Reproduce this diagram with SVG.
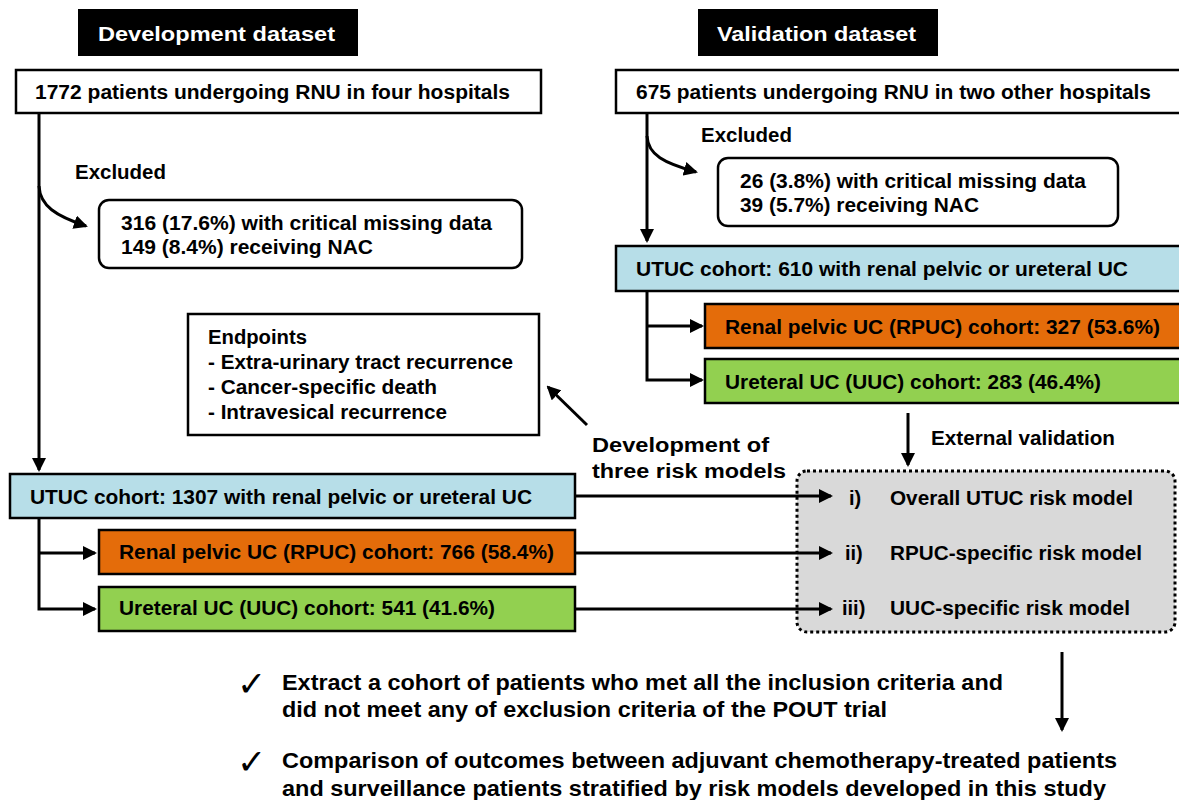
<svg xmlns="http://www.w3.org/2000/svg" width="1179" height="800" viewBox="0 0 1179 800">
  <defs>
    <marker id="head" viewBox="0 0 14 14" markerUnits="userSpaceOnUse" markerWidth="14" markerHeight="14" refX="12" refY="7" orient="auto">
      <path d="M0,0 L14,7 L0,14 Z" fill="#000"/>
    </marker>
    <style>
      text { font-family: "Liberation Sans", Arial, sans-serif; font-weight: bold; font-size: 20px; fill: #000; }
      .title { fill: #fff; }
      .big { font-size: 21.5px; }
      .tick { font-family: "DejaVu Sans", sans-serif; font-weight: bold; font-size: 35px; }
      .box { stroke: #000; stroke-width: 2.5; }
      .white { fill: #fff; }
      .blue { fill: #b7dee8; }
      .orange { fill: #e46c0a; }
      .green { fill: #92d050; }
      .conn { fill: none; stroke: #000; stroke-width: 3; }
    </style>
  </defs>

  <rect width="1179" height="800" fill="#fff"/>

  <!-- section headings -->
  <g id="dev-heading">
    <rect x="78" y="9" width="280" height="47" fill="#000"/>
    <text class="title" x="98" y="41" textLength="237" lengthAdjust="spacingAndGlyphs">Development dataset</text>
  </g>
  <g id="val-heading">
    <rect x="698" y="9" width="240" height="47" fill="#000"/>
    <text class="title" x="717" y="41" textLength="199" lengthAdjust="spacingAndGlyphs">Validation dataset</text>
  </g>

  <!-- development dataset nodes -->
  <g id="dev-all">
    <rect class="box white" x="16" y="70" width="525" height="43"/>
    <text x="35" y="99" textLength="475" lengthAdjust="spacingAndGlyphs">1772 patients undergoing RNU in four hospitals</text>
  </g>
  <g id="dev-excluded-label">
    <text x="75" y="179" textLength="91" lengthAdjust="spacingAndGlyphs">Excluded</text>
  </g>
  <g id="dev-excluded">
    <rect class="box white" x="99" y="200" width="423" height="68" rx="10"/>
    <text x="121" y="230" textLength="371" lengthAdjust="spacingAndGlyphs">316 (17.6%) with critical missing data</text>
    <text x="121" y="254" textLength="252" lengthAdjust="spacingAndGlyphs">149 (8.4%) receiving NAC</text>
  </g>
  <g id="endpoints">
    <rect class="box white" x="188" y="314" width="351" height="121"/>
    <text x="208" y="344" textLength="99" lengthAdjust="spacingAndGlyphs">Endpoints</text>
    <text x="208" y="369" textLength="305" lengthAdjust="spacingAndGlyphs">- Extra-urinary tract recurrence</text>
    <text x="208" y="394" textLength="229" lengthAdjust="spacingAndGlyphs">- Cancer-specific death</text>
    <text x="208" y="419" textLength="239" lengthAdjust="spacingAndGlyphs">- Intravesical recurrence</text>
  </g>
  <g id="dev-label">
    <text x="592" y="452" textLength="177" lengthAdjust="spacingAndGlyphs">Development of</text>
    <text x="592" y="478" textLength="194" lengthAdjust="spacingAndGlyphs">three risk models</text>
  </g>
  <g id="dev-utuc">
    <rect class="box blue" x="10" y="474" width="565" height="44"/>
    <text x="30" y="504" textLength="502" lengthAdjust="spacingAndGlyphs">UTUC cohort: 1307 with renal pelvic or ureteral UC</text>
  </g>
  <g id="dev-rpuc">
    <rect class="box orange" x="99" y="530" width="476" height="44"/>
    <text x="119" y="559" textLength="435" lengthAdjust="spacingAndGlyphs">Renal pelvic UC (RPUC) cohort: 766 (58.4%)</text>
  </g>
  <g id="dev-uuc">
    <rect class="box green" x="99" y="587" width="476" height="44"/>
    <text x="119" y="615" textLength="376" lengthAdjust="spacingAndGlyphs">Ureteral UC (UUC) cohort: 541 (41.6%)</text>
  </g>

  <!-- validation dataset nodes -->
  <g id="val-all">
    <rect class="box white" x="616" y="70" width="570" height="43"/>
    <text x="636" y="99" textLength="515" lengthAdjust="spacingAndGlyphs">675 patients undergoing RNU in two other hospitals</text>
  </g>
  <g id="val-excluded-label">
    <text x="701" y="142" textLength="91" lengthAdjust="spacingAndGlyphs">Excluded</text>
  </g>
  <g id="val-excluded">
    <rect class="box white" x="718" y="158" width="400" height="68" rx="10"/>
    <text x="740" y="188" textLength="346" lengthAdjust="spacingAndGlyphs">26 (3.8%) with critical missing data</text>
    <text x="740" y="212" textLength="239" lengthAdjust="spacingAndGlyphs">39 (5.7%) receiving NAC</text>
  </g>
  <g id="val-utuc">
    <rect class="box blue" x="616" y="246" width="570" height="45"/>
    <text x="636" y="276" textLength="492" lengthAdjust="spacingAndGlyphs">UTUC cohort: 610 with renal pelvic or ureteral UC</text>
  </g>
  <g id="val-rpuc">
    <rect class="box orange" x="705" y="304" width="480" height="44"/>
    <text x="725" y="334" textLength="435" lengthAdjust="spacingAndGlyphs">Renal pelvic UC (RPUC) cohort: 327 (53.6%)</text>
  </g>
  <g id="val-uuc">
    <rect class="box green" x="705" y="359" width="480" height="44"/>
    <text x="725" y="389" textLength="376" lengthAdjust="spacingAndGlyphs">Ureteral UC (UUC) cohort: 283 (46.4%)</text>
  </g>
  <g id="ext-label">
    <text x="931" y="445" textLength="184" lengthAdjust="spacingAndGlyphs">External validation</text>
  </g>

  <!-- risk models -->
  <g id="models">
    <rect x="797" y="471" width="378" height="161" rx="10" fill="#d9d9d9" stroke="#000" stroke-width="3" stroke-dasharray="3 3"/>
    <text x="849" y="505">i)</text>
    <text x="890" y="505" textLength="243" lengthAdjust="spacingAndGlyphs">Overall UTUC risk model</text>
    <text x="845" y="560">ii)</text>
    <text x="890" y="560" textLength="252" lengthAdjust="spacingAndGlyphs">RPUC-specific risk model</text>
    <text x="842" y="615">iii)</text>
    <text x="890" y="615" textLength="240" lengthAdjust="spacingAndGlyphs">UUC-specific risk model</text>
  </g>

  <!-- planned analyses -->
  <g id="analyses">
    <text class="tick" x="237" y="696">✓</text>
    <text class="big" x="282" y="690" textLength="721" lengthAdjust="spacingAndGlyphs">Extract a cohort of patients who met all the inclusion criteria and</text>
    <text class="big" x="282" y="717" textLength="605" lengthAdjust="spacingAndGlyphs">did not meet any of exclusion criteria of the POUT trial</text>
    <text class="tick" x="237" y="774">✓</text>
    <text class="big" x="282" y="768" textLength="835" lengthAdjust="spacingAndGlyphs">Comparison of outcomes between adjuvant chemotherapy-treated patients</text>
    <text class="big" x="282" y="796" textLength="824" lengthAdjust="spacingAndGlyphs">and surveillance patients stratified by risk models developed in this study</text>
  </g>

  <!-- connectors, drawn on top of the nodes -->
  <g id="connectors">
    <!-- development flow -->
    <path class="conn" d="M39,113 V470" marker-end="url(#head)"/>
    <path class="conn" d="M39,186 C40,206 56,216 86,226" marker-end="url(#head)"/>
    <path class="conn" d="M39,518 V609 H95" marker-end="url(#head)"/>
    <path class="conn" d="M39,553 H95" marker-end="url(#head)"/>
    <!-- validation flow -->
    <path class="conn" d="M647,113 V241" marker-end="url(#head)"/>
    <path class="conn" d="M647,136 C648,155 664,163 696,172" marker-end="url(#head)"/>
    <path class="conn" d="M647,291 V380 H702" marker-end="url(#head)"/>
    <path class="conn" d="M647,326 H702" marker-end="url(#head)"/>
    <!-- model development and validation -->
    <path class="conn" d="M575,496 H831" marker-end="url(#head)"/>
    <path class="conn" d="M575,553 H831" marker-end="url(#head)"/>
    <path class="conn" d="M575,609 H831" marker-end="url(#head)"/>
    <path class="conn" d="M587,425 L548,387" marker-end="url(#head)"/>
    <path class="conn" d="M908,413 V465" marker-end="url(#head)"/>
    <path class="conn" d="M1062,652 V730" marker-end="url(#head)"/>
  </g>
</svg>
